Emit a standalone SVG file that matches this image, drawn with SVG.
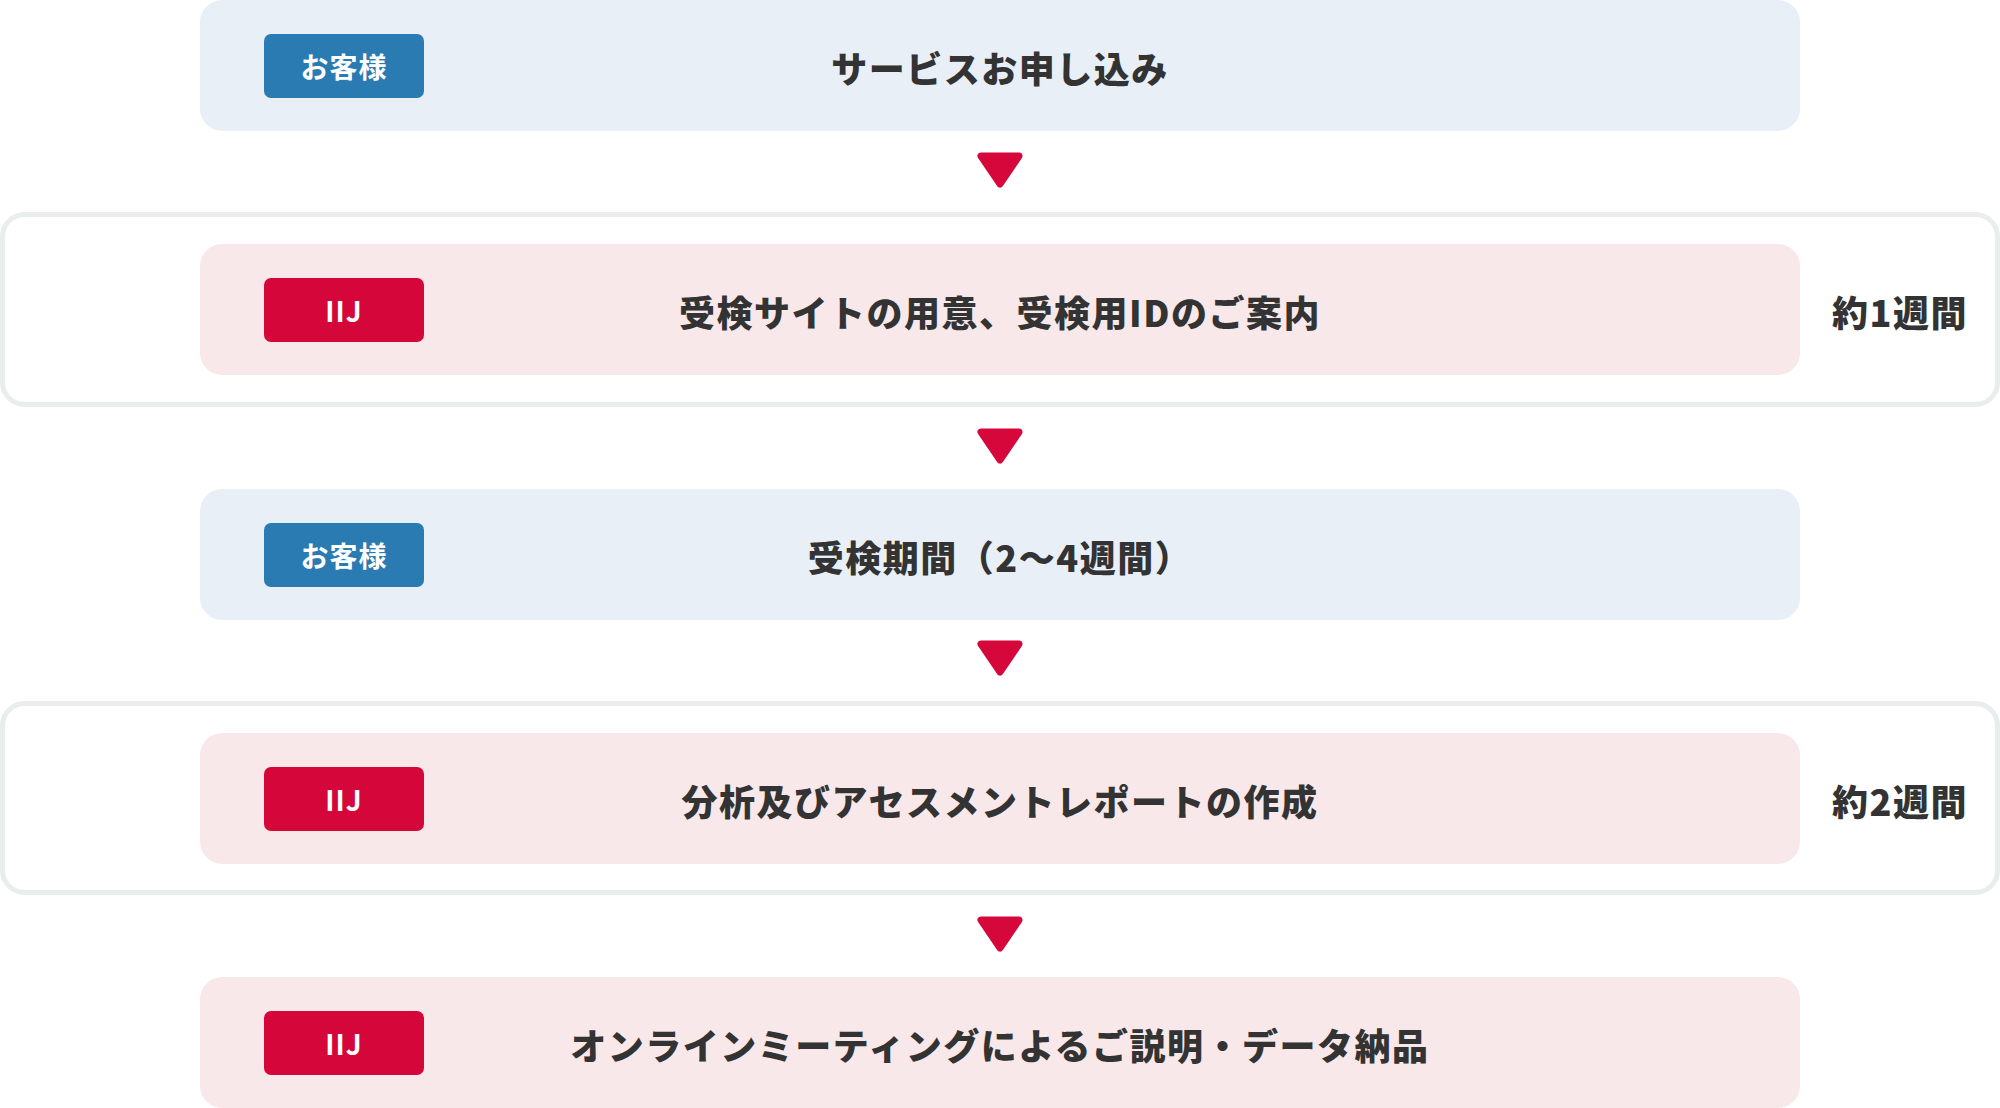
<svg xmlns="http://www.w3.org/2000/svg" width="2000" height="1108" viewBox="0 0 2000 1108">
<style>
.frame{fill:#ffffff;stroke:#e9edee;stroke-width:5}
.card-c{fill:#e8eff6}
.card-i{fill:#f8e8ea}
.badge-c{fill:#2b7bb3}
.badge-i{fill:#d5073a}
.btxt{font-family:"Noto Sans CJK JP","Noto Sans",sans-serif;font-size:28px;font-weight:700;fill:#ffffff;text-anchor:middle;letter-spacing:1px}
.main{font-family:"Noto Sans CJK JP","Noto Sans",sans-serif;font-size:36px;font-weight:900;fill:#333333;text-anchor:middle;letter-spacing:1.5px}
.arrow{fill:#d6073a;stroke:#d6073a;stroke-width:7;stroke-linejoin:round}
</style>
<rect width="2000" height="1108" fill="#ffffff"/>
<g id="frames">
<rect class="frame" x="2.5" y="214.5" width="1995" height="190" rx="22"/>
<rect class="frame" x="2.5" y="703.5" width="1995" height="189" rx="22"/>
</g>
<g id="step1">
<rect class="card-c" x="200" y="0" width="1600" height="131" rx="22"/>
<rect class="badge-c" x="264" y="34" width="160" height="64" rx="7"/>
<text class="btxt" x="344" y="78">お客様</text>
<text class="main" x="1000" y="83">サービスお申し込み</text>
</g>
<g id="step2">
<rect class="card-i" x="200" y="244" width="1600" height="131" rx="22"/>
<rect class="badge-i" x="264" y="278" width="160" height="64" rx="7"/>
<text class="btxt" x="344" y="322">IIJ</text>
<text class="main" x="1000" y="327">受検サイトの用意、受検用IDのご案内</text>
</g>
<g id="period1">
<text class="main" x="1900" y="327">約1週間</text>
</g>
<g id="step3">
<rect class="card-c" x="200" y="489" width="1600" height="131" rx="22"/>
<rect class="badge-c" x="264" y="523" width="160" height="64" rx="7"/>
<text class="btxt" x="344" y="567">お客様</text>
<text class="main" x="1000" y="572">受検期間（2〜4週間）</text>
</g>
<g id="step4">
<rect class="card-i" x="200" y="733" width="1600" height="131" rx="22"/>
<rect class="badge-i" x="264" y="767" width="160" height="64" rx="7"/>
<text class="btxt" x="344" y="811">IIJ</text>
<text class="main" x="1000" y="816">分析及びアセスメントレポートの作成</text>
</g>
<g id="period2">
<text class="main" x="1900" y="816">約2週間</text>
</g>
<g id="step5">
<rect class="card-i" x="200" y="977" width="1600" height="131" rx="22"/>
<rect class="badge-i" x="264" y="1011" width="160" height="64" rx="7"/>
<text class="btxt" x="344" y="1055">IIJ</text>
<text class="main" x="1000" y="1060">オンラインミーティングによるご説明・データ納品</text>
</g>
<g id="connectors">
<polygon class="arrow" points="981,156 1019,156 1000,184"/>
<polygon class="arrow" points="981,432 1019,432 1000,460"/>
<polygon class="arrow" points="981,644 1019,644 1000,672"/>
<polygon class="arrow" points="981,920 1019,920 1000,948"/>
</g>
</svg>
